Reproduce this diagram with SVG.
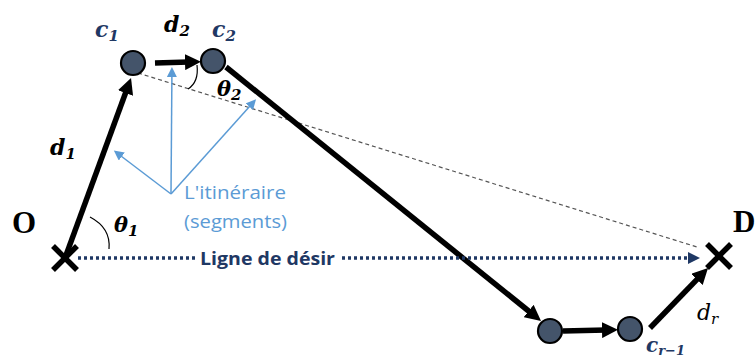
<svg xmlns="http://www.w3.org/2000/svg" width="756" height="358" viewBox="0 0 756 358">
<style>
.node{fill:#44546a;stroke:#000;stroke-width:2.2}
.cross{stroke:#000;stroke-width:5.5;stroke-linecap:butt}
.thick{stroke:#000;stroke-width:5.5;fill:none}
.math{font-family:"DejaVu Serif","Liberation Serif",serif;font-style:italic;font-weight:bold}
.navy{fill:#1f3864}
.blk{fill:#000}
.big{font-family:"Liberation Serif","DejaVu Serif",serif;font-weight:bold;font-size:31px;fill:#000}
.itin{font-family:"Open Sans","Liberation Sans",sans-serif;font-size:19px;fill:#5b9bd5}
.blue{stroke:#5b9bd5;stroke-width:1.5;fill:none}
</style>
<defs>
<marker id="ah" markerUnits="userSpaceOnUse" markerWidth="18" markerHeight="16" refX="4" refY="8" orient="auto">
<path d="M0,0 L16,8 L0,16 z" fill="#000"/>
</marker>
<marker id="ahn" markerUnits="userSpaceOnUse" markerWidth="14" markerHeight="14" refX="2" refY="6" orient="auto">
<path d="M0,0 L12,6 L0,12 z" fill="#1f3864"/>
</marker>
<marker id="ahb" markerUnits="userSpaceOnUse" markerWidth="12" markerHeight="12" refX="1" refY="5" orient="auto">
<path d="M0,0 L10,5 L0,10 z" fill="#5b9bd5"/>
</marker>
</defs>
<rect width="756" height="358" fill="#fff"/>
<g id="connectors">
<line x1="138" y1="73" x2="697" y2="247" stroke="#555" stroke-width="1.2" stroke-dasharray="4 3"/>
<line class="thick" x1="65" y1="258" x2="126.9" y2="89.3" marker-end="url(#ah)"/>
<line class="thick" x1="155" y1="63" x2="189" y2="62" marker-end="url(#ah)"/>
<line class="thick" x1="226" y1="67" x2="531.7" y2="313.5" marker-end="url(#ah)"/>
<line class="thick" x1="563" y1="331" x2="606" y2="330" marker-end="url(#ah)"/>
<line class="thick" x1="650" y1="328" x2="699.7" y2="276.6" marker-end="url(#ah)"/>
<line x1="78" y1="258" x2="690" y2="258" stroke="#1f3864" stroke-width="3.5" stroke-dasharray="3 3" marker-end="url(#ahn)"/>
<rect x="196" y="247" width="144" height="24" fill="#fff"/>
<text x="200" y="265" textLength="135" lengthAdjust="spacingAndGlyphs" font-family="Open Sans,Liberation Sans,sans-serif" font-weight="bold" font-size="18.5" fill="#1f3864">Ligne de désir</text>
<path d="M197,65 Q199,82 188,89" stroke="#000" stroke-width="1.2" fill="none"/>
<path d="M90,217 Q111,228 109,249" stroke="#000" stroke-width="1.2" fill="none"/>
<line class="blue" x1="171" y1="194" x2="121" y2="156" marker-end="url(#ahb)"/>
<line class="blue" x1="171" y1="194" x2="171.9" y2="76" marker-end="url(#ahb)"/>
<line class="blue" x1="171" y1="194" x2="250" y2="106" marker-end="url(#ahb)"/>
</g>
<g id="node-O">
<line class="cross" x1="53" y1="246" x2="77" y2="270"/>
<line class="cross" x1="53" y1="270" x2="77" y2="246"/>
<text class="big" x="12" y="233">O</text>
</g>
<g id="node-D">
<line class="cross" x1="707" y1="244" x2="731" y2="268"/>
<line class="cross" x1="707" y1="268" x2="731" y2="244"/>
<text class="big" x="733" y="232" font-size="29">D</text>
</g>
<g id="node-C1">
<circle class="node" cx="133" cy="63" r="12"/>
<text class="math navy" x="95" y="37" font-size="22">c<tspan font-size="15" dy="4">1</tspan></text>
</g>
<g id="node-C2">
<circle class="node" cx="213" cy="61" r="12"/>
<text class="math navy" x="212" y="37" font-size="22">c<tspan font-size="15" dy="4">2</tspan></text>
</g>
<g id="node-Cr2">
<circle class="node" cx="550" cy="331" r="12"/>
</g>
<g id="node-Cr1">
<circle class="node" cx="630" cy="329" r="12"/>
<text class="math navy" x="646" y="352" font-size="20">c<tspan font-size="13" dy="3">r−1</tspan></text>
</g>
<g id="labels">
<text class="math blk" x="164" y="32" font-size="22">d<tspan font-size="15" dy="4">2</tspan></text>
<text class="math blk" x="50" y="155" font-size="22">d<tspan font-size="15" dy="4">1</tspan></text>
<text class="math blk" x="217" y="96" font-size="21">θ<tspan font-size="15" dy="4">2</tspan></text>
<text class="math blk" x="114" y="232" font-size="21">θ<tspan font-size="15" dy="4">1</tspan></text>
<text x="697" y="320" font-family="DejaVu Serif,Liberation Serif,serif" font-style="italic" font-size="22" fill="#000">d<tspan font-size="15" dy="4">r</tspan></text>
<text class="itin" x="184" y="199" textLength="102" lengthAdjust="spacingAndGlyphs">L'itinéraire</text>
<text class="itin" x="184" y="228" textLength="103" lengthAdjust="spacingAndGlyphs">(segments)</text>
</g>
</svg>
